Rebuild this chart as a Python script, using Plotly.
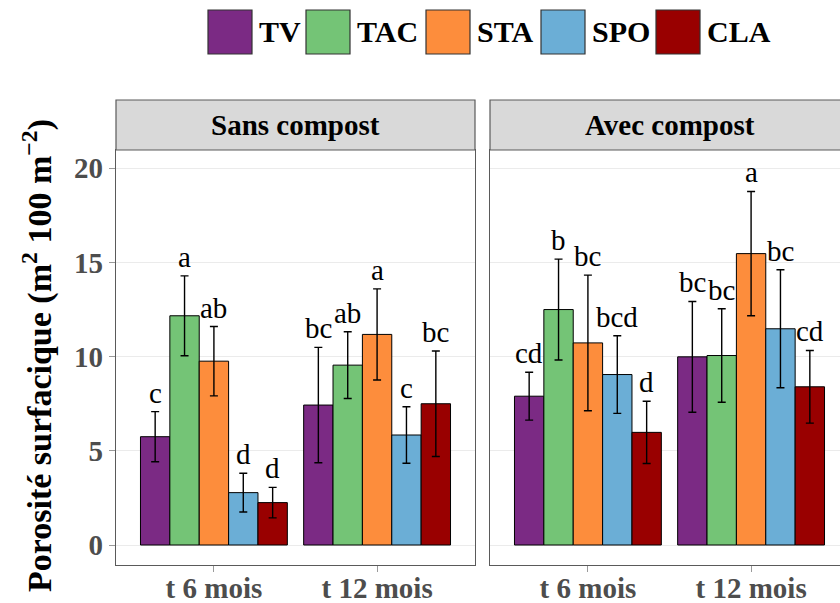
import plotly.graph_objects as go

# ---------------- data ----------------
categories = ["t 6 mois", "t 12 mois"]
series = ["TV", "TAC", "STA", "SPO", "CLA"]
panels = ["Sans compost", "Avec compost"]

# means per series (rows) x time (cols)
sans_means = [[5.75, 7.43], [12.17, 9.55], [9.76, 11.18], [2.78, 5.84], [2.25, 7.50]]
sans_errs = [[1.33, 3.06], [2.12, 1.77], [1.84, 2.42], [1.03, 1.50], [0.81, 2.80]]
sans_letters = [["c", "bc"], ["a", "ab"], ["ab", "a"], ["d", "c"], ["d", "bc"]]

avec_means = [[7.90, 9.99], [12.50, 10.06], [10.73, 15.47], [9.05, 11.48], [5.98, 8.40]]
avec_errs = [[1.27, 2.94], [2.68, 2.48], [3.60, 3.30], [2.06, 3.13], [1.65, 1.93]]
avec_letters = [["cd", "bc"], ["b", "bc"], ["bc", "a"], ["bcd", "bc"], ["d", "cd"]]

y_ticks = [0, 5, 10, 15, 20]

# ---------------- style ----------------
colors = ["#7B2A84", "#74C476", "#FD8D3C", "#6BAED6", "#990000"]
SERIF = "Liberation Serif"
W, H = 840, 603


def px(x):
    return x / W


def py(y):
    return 1 - y / H


fig = go.Figure()

panel_data = [
    (sans_means, sans_errs, sans_letters, "x", "y"),
    (avec_means, avec_errs, avec_letters, "x2", "y2"),
]

n = len(series)
group_w = 0.9
bar_w = group_w / n

for p, (means, errs, letters, xa, ya) in enumerate(panel_data):
    for i, s in enumerate(series):
        fig.add_trace(go.Bar(
            x=categories, y=means[i], name=s,
            marker=dict(color=colors[i], line=dict(color="black", width=1)),
            error_y=dict(type="data", array=errs[i], visible=True,
                         color="black", thickness=1.4, width=4),
            xaxis=xa, yaxis=ya, showlegend=False, legendgroup=s,
        ))
        for j in range(len(categories)):
            xpos = j + (i - (n - 1) / 2) * bar_w
            fig.add_annotation(
                x=xpos, y=means[i][j] + errs[i][j], xref=xa, yref=ya,
                text=letters[i][j], showarrow=False, yanchor="bottom",
                yshift=1, font=dict(family=SERIF, size=29, color="black"),
            )

# panel geometry
y_dom = [py(565), py(150)]
x_dom1 = [px(116), px(475)]
x_dom2 = [px(490), 1.0]
unit_px = (545 - 168.3) / 20
y_range = [-(565 - 545) / unit_px, 20 + (168.3 - 150) / unit_px]
cat_px = (475 - 116) / 2.2
x_range1 = [-0.6, 1.6]
x_range2 = [-0.6, -0.6 + (W - 490) / cat_px]

tickfont = dict(family=SERIF, size=29, color="#4D4D4D", weight="bold")
axis_line = "#5a5a5a"
grid = "#EBEBEB"

common_x = dict(showline=True, linecolor=axis_line, linewidth=1.2, mirror=True,
                ticks="outside", ticklen=6, tickcolor="#9a9a9a",
                tickfont=tickfont, showgrid=False, type="category",
                automargin=False, ticklabelstandoff=-9)
common_y = dict(showline=True, linecolor=axis_line, linewidth=1.2,
                showgrid=True, gridcolor=grid, gridwidth=1, zeroline=False,
                range=y_range, tickvals=y_ticks, domain=y_dom, automargin=False)

fig.update_layout(
    template="none",
    width=W, height=H,
    margin=dict(l=0, r=0, t=0, b=0, pad=0, autoexpand=False),
    plot_bgcolor="white", paper_bgcolor="white",
    barmode="group", bargap=0.1, bargroupgap=0,
    showlegend=False,
    xaxis=dict(common_x, domain=x_dom1, range=x_range1, anchor="y"),
    xaxis2=dict(common_x, domain=x_dom2, range=x_range2, anchor="y2"),
    yaxis=dict(common_y, anchor="x", mirror=True, ticks="outside", ticklen=6,
               tickcolor="#9a9a9a", tickfont=tickfont),
    yaxis2=dict(common_y, anchor="x2", mirror=False, showticklabels=False,
                ticks=""),
)

# strips
for p, (x0, x1) in enumerate([x_dom1, x_dom2]):
    fig.add_shape(type="rect", xref="paper", yref="paper",
                  x0=x0, x1=x1 + (0.02 if p == 1 else 0), y0=py(150), y1=py(100),
                  fillcolor="#D9D9D9", line=dict(color=axis_line, width=1.2),
                  layer="above")
    cx = (x0 + (x1 if p == 0 else px(490 + 359))) / 2
    fig.add_annotation(x=cx, y=py(125), xref="paper", yref="paper",
                       yanchor="middle", xanchor="center", text=panels[p],
                       showarrow=False,
                       font=dict(family=SERIF, size=29, color="black", weight="bold"))

# y-axis title
fig.add_annotation(
    x=px(37), y=py(356), xref="paper", yref="paper", textangle=-90,
    xanchor="center", yanchor="middle",
    text="Porosité surfacique (m<sup>2</sup> 100 m<sup>−2</sup>)",
    showarrow=False, font=dict(family=SERIF, size=34, color="black", weight="bold"),
)

# legend (manual, big keys)
box_left = [208, 306, 426, 541, 656]
for i, s in enumerate(series):
    b = box_left[i]
    fig.add_shape(type="rect", xref="paper", yref="paper",
                  x0=px(b), x1=px(b + 44), y0=py(54), y1=py(10),
                  fillcolor=colors[i], line=dict(color="#333333", width=1.2))
    fig.add_annotation(x=px(b + 49), y=py(32), xref="paper", yref="paper",
                       xanchor="left", yanchor="middle", text=s, showarrow=False,
                       font=dict(family=SERIF, size=30, color="black", weight="bold"))

fig.write_html("out.html", config={"displayModeBar": False},
               post_script="document.body.style.margin='0';document.body.style.padding='0';")
